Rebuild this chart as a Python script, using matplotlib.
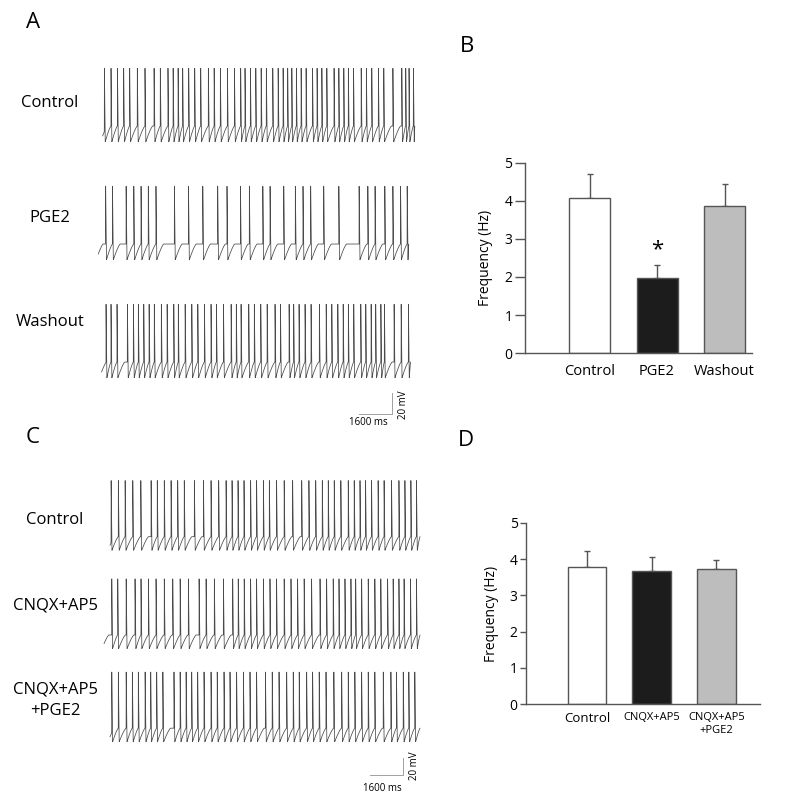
import numpy as np
import matplotlib
matplotlib.use("Agg")
from matplotlib import pyplot as plt

plt.rcParams['font.family'] = ['Open Sans', 'DejaVu Sans']

# spike times [s]
spikes_a_control = [0.13, 0.45, 0.76, 1.06, 1.35, 1.72, 2.09, 2.53, 2.83, 3.20, 3.45, 3.69,
                    3.91, 4.20, 4.49, 4.78, 5.15, 5.43, 5.73, 6.07, 6.41, 6.71, 6.92, 7.18,
                    7.44, 7.70, 7.95, 8.26, 8.52, 8.76, 8.98, 9.18, 9.40, 9.63, 9.87, 10.18,
                    10.40, 10.63, 10.87, 11.22, 11.45, 11.69, 11.91, 12.16, 12.53, 12.78,
                    13.04, 13.36, 13.62, 14.06, 14.49, 14.68, 14.84, 15.05]
spikes_a_pge2 = [0.19, 0.52, 1.18, 1.55, 1.90, 2.25, 2.62, 3.51, 4.19, 4.88, 5.60, 6.05,
                 6.70, 7.13, 7.78, 8.13, 8.79, 9.35, 9.72, 10.09, 10.72, 11.45, 12.43,
                 12.85, 13.20, 13.67, 14.06, 14.43, 14.75]
spikes_a_washout = [0.21, 0.45, 0.74, 1.24, 1.53, 1.77, 2.03, 2.29, 2.54, 2.88, 3.16, 3.48,
                    3.70, 4.03, 4.35, 4.64, 4.96, 5.28, 5.54, 5.88, 6.25, 6.50, 6.73, 7.10,
                    7.37, 7.68, 7.99, 8.37, 8.63, 9.05, 9.27, 9.53, 9.82, 10.11, 10.51,
                    10.84, 11.11, 11.40, 11.66, 11.91, 12.17, 12.51, 12.75, 13.01, 13.23,
                    13.48, 13.65, 14.12, 14.46, 14.81]
spikes_c_control = [0.05, 0.40, 0.73, 1.10, 1.49, 1.99, 2.29, 2.63, 2.96, 3.28, 3.60, 4.09,
                    4.53, 4.90, 5.27, 5.63, 5.92, 6.21, 6.50, 6.82, 7.11, 7.44, 7.73, 8.08,
                    8.45, 8.86, 9.30, 9.65, 9.98, 10.30, 10.59, 10.88, 11.20, 11.56, 11.85,
                    12.13, 12.40, 12.69, 13.01, 13.30, 13.66, 14.02, 14.31, 14.60, 14.87]
spikes_c_cnqx = [0.08, 0.37, 0.78, 1.21, 1.50, 1.86, 2.23, 2.63, 3.04, 3.40, 3.80, 4.32,
                 4.66, 5.06, 5.50, 5.95, 6.22, 6.51, 6.82, 7.11, 7.44, 7.76, 8.08, 8.45,
                 8.78, 9.10, 9.42, 9.78, 10.19, 10.51, 10.83, 11.11, 11.40, 11.69, 11.92,
                 12.21, 12.53, 12.85, 13.14, 13.47, 13.74, 14.02, 14.27, 14.58, 14.87]
spikes_c_cnqx_pge2 = [0.08, 0.40, 0.78, 1.08, 1.37, 1.70, 1.97, 2.26, 2.56, 3.10, 3.40, 3.69,
                      3.96, 4.25, 4.56, 4.90, 5.20, 5.53, 5.82, 6.14, 6.47, 6.79, 7.11, 7.54,
                      7.87, 8.20, 8.57, 8.89, 9.18, 9.54, 9.83, 10.15, 10.48, 10.86, 11.24,
                      11.56, 11.88, 12.21, 12.53, 12.85, 13.26, 13.63, 13.90, 14.23, 14.50,
                      14.79]

labels_a = ["Control", "PGE2", "Washout"]
labels_c = ["Control", "CNQX+AP5", "CNQX+AP5\n+PGE2"]

# bar charts
groups_b = ["Control", "PGE2", "Washout"]
freq_b = [4.08, 1.97, 3.88]
err_b = [0.62, 0.35, 0.57]
groups_d = ["Control", "CNQX+AP5", "CNQX+AP5\n+PGE2"]
freq_d = [3.78, 3.67, 3.73]
err_d = [0.44, 0.38, 0.24]
bar_colors = ["white", "#1c1c1c", "#bdbdbd"]

W, H = 800, 805
fig = plt.figure(figsize=(W / 100, H / 100), dpi=100)


def px_axes(left, top, right, bottom):
    return fig.add_axes([left / W, 1 - bottom / H, (right - left) / W, (bottom - top) / H])


def px_text(x, y, s, **kw):
    fig.text(x / W, 1 - y / H, s, **kw)


def make_trace(spikes, t0, t1, peak, depth, ramp=0.33, thr=-50.0):
    # spike -> AHP trough -> near-linear pacemaker ramp -> plateau at threshold
    tt_all, vv_all = [], []
    edges = [t0] + list(spikes) + [t1]
    for i in range(len(edges) - 1):
        a, b = edges[i], edges[i + 1]
        if i == 0:
            tt = np.arange(a, b, 0.004)
            frac = np.clip((tt - a + 0.1) / ramp, 0, 1)
        else:
            tt_all.append([a + 0.004])
            vv_all.append([thr + peak])
            a = a + 0.045
            tt = np.arange(a, b, 0.004)
            frac = np.clip((tt - a) / min(ramp, b - a), 0, 1)
        vv = thr - depth * (1 - frac) ** 1.3
        tt_all.append(tt)
        vv_all.append(vv)
        if i < len(edges) - 2:
            tt_all.append([b])
            vv_all.append([thr])
    return np.concatenate(tt_all), np.concatenate(vv_all)


trace_color = "#4a4a4a"
trace_lw = 0.55

# ---- panel A traces
ax_a = px_axes(95, 50, 445, 435)
ax_a.set_xlim(-0.32, 16.58)
ax_a.set_ylim(0, 366.7)
ax_a.axis("off")
offsets_a = [344.3, 231.9, 119.5]
ranges_a = [(0.05, 15.12), (-0.16, 14.82), (0.0, 14.92)]
for sp, off, (t0, t1) in zip([spikes_a_control, spikes_a_pge2, spikes_a_washout], offsets_a, ranges_a):
    t, v = make_trace(sp, t0, t1, peak=55, depth=15)
    ax_a.plot(t, v + off, color=trace_color, lw=trace_lw)
# scale bar
ax_a.plot([12.42, 14.02, 14.02], [20, 20, 40], color="#a0a0a0", lw=0.7)
ax_a.text(14.6, 29, "20 mV", rotation=90, fontsize=7, ha="center", va="center")
ax_a.text(12.9, 11.5, "1600 ms", fontsize=7, ha="center", va="center")

# ---- panel C traces
ax_c = px_axes(95, 460, 445, 800)
ax_c.set_xlim(-0.73, 16.26)
ax_c.set_ylim(0, 400)
ax_c.axis("off")
offsets_c = [359.8, 244.1, 134.5]
ranges_c = [(0.0, 15.05), (-0.29, 15.05), (0.0, 15.05)]
for sp, off, (t0, t1) in zip([spikes_c_control, spikes_c_cnqx, spikes_c_cnqx_pge2], offsets_c, ranges_c):
    t, v = make_trace(sp, t0, t1, peak=66, depth=16)
    ax_c.plot(t, v + off, color=trace_color, lw=trace_lw)
ax_c.plot([12.62, 14.22, 14.22], [29.4, 29.4, 49.4], color="#a0a0a0", lw=0.7)
ax_c.text(14.8, 40, "20 mV", rotation=90, fontsize=7, ha="center", va="center")
ax_c.text(13.2, 14, "1600 ms", fontsize=7, ha="center", va="center")

# row labels
for lab, y in zip(labels_a, [103, 218, 322]):
    px_text(50, y, lab, fontsize=12, ha="center", va="center")
for lab, y in zip(labels_c, [520, 605, 700]):
    px_text(55, y, lab, fontsize=12, ha="center", va="center", linespacing=1.5)

# panel letters
for s, x, y in [("A", 33, 22), ("B", 467, 47), ("C", 33, 437), ("D", 466, 441)]:
    px_text(x, y, s, fontsize=16, ha="center", va="center")


def style_bar_axes(ax, ticklen):
    for side in ["top", "right"]:
        ax.spines[side].set_visible(False)
    for side in ["left", "bottom"]:
        ax.spines[side].set_color("#555555")
        ax.spines[side].set_linewidth(1.0)
    ax.tick_params(axis="y", length=ticklen, width=1.0, color="#555555", labelsize=10, pad=2)
    ax.tick_params(axis="x", length=0, pad=6)
    ax.set_ylim(0, 5)
    ax.set_yticks([0, 1, 2, 3, 4, 5])
    ax.set_ylabel("Frequency (Hz)", fontsize=10, labelpad=8)


# ---- panel B
ax_b = px_axes(525, 163, 752, 353)
xb = np.arange(len(groups_b))
ax_b.bar(xb, freq_b, width=0.607, color=bar_colors, edgecolor="#555555", linewidth=1.0, zorder=2)
ax_b.errorbar(xb, freq_b, yerr=[np.zeros(3), err_b], fmt="none", ecolor="#555555",
              elinewidth=1.0, capsize=2.5, capthick=1.0, zorder=1)
ax_b.set_xlim(-0.956, 2.407)
style_bar_axes(ax_b, 7)
ax_b.set_xticks(xb)
ax_b.set_xticklabels(groups_b, fontsize=10.5)
ax_b.tick_params(axis="x", pad=8)
ax_b.text(1, freq_b[1] + err_b[1] + 0.12, "*", fontsize=16, ha="center", va="bottom")

# ---- panel D
ax_d = px_axes(526, 523, 760, 704)
xd = np.arange(len(groups_d))
ax_d.bar(xd, freq_d, width=0.6, color=bar_colors, edgecolor="#555555", linewidth=1.0, zorder=2)
ax_d.errorbar(xd, freq_d, yerr=[np.zeros(3), err_d], fmt="none", ecolor="#555555",
              elinewidth=1.0, capsize=2.5, capthick=1.0, zorder=1)
ax_d.set_xlim(-0.943, 2.674)
style_bar_axes(ax_d, 4)
ax_d.set_xticks(xd)
ax_d.set_xticklabels(groups_d)
for i, lbl in enumerate(ax_d.get_xticklabels()):
    lbl.set_fontsize(9.5 if i == 0 else 8)
    lbl.set_va("top")

fig.savefig("out.png", dpi=100)
